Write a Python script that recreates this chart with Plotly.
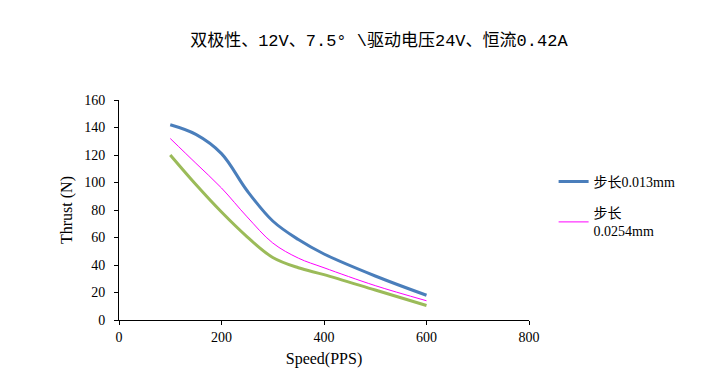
import plotly.graph_objects as go

speed = [100, 150, 200, 250, 300, 350, 400, 500, 600]
thrust_0013 = [142, 135, 121, 94, 72, 58.5, 48, 32, 18]
thrust_00254 = [132, 114, 96, 75, 56, 45, 38, 25, 14]
thrust_third = [120, 98.5, 78.5, 60.5, 45.5, 38, 33, 21.8, 10.5]

names = ["步长0.013mm", "步长<br>0.0254mm", "步长0.05mm"]
colors = ["#4A7EBB", "#FF00FF", "#9BBB59"]
widths = [3, 1, 3]

FONT = "Liberation Serif, Noto Sans CJK SC, serif"
MONO = "Liberation Mono, Noto Sans CJK SC, monospace"

fig = go.Figure()
for i, (ys, nm, c, w, show) in enumerate(zip([thrust_0013, thrust_00254, thrust_third], names, colors, widths, [True, True, False])):
    fig.add_trace(go.Scatter(x=speed, y=ys, mode="lines", name=nm, legendgroup=f"g{i}",
                             line=dict(color=c, width=w, shape="spline", smoothing=1.0),
                             showlegend=show))

fig.update_layout(
    width=716, height=382,
    paper_bgcolor="white", plot_bgcolor="white",
    font=dict(family=FONT, size=13, color="black"),
    title=dict(text="双极性、12V、7.5° \\驱动电压24V、恒流0.42A", x=0.518, xanchor="center",
               y=0.916, yanchor="middle", font=dict(size=17, family=MONO)),
    margin=dict(l=111, r=195, t=92, b=70),
    legend=dict(x=1.06, y=0.70, xanchor="left", yanchor="top", font=dict(size=14, family=FONT),
                tracegroupgap=10, bgcolor="rgba(0,0,0,0)"),
)
fig.update_xaxes(range=[0, 800], tickvals=[0, 200, 400, 600, 800], showline=True, linecolor="black",
                 linewidth=1, ticks="outside", ticklen=4, tickcolor="black", showgrid=False,
                 zeroline=False, title=dict(text="Speed(PPS)", standoff=9), tickfont=dict(size=14))
fig.update_yaxes(range=[0, 160], tickvals=list(range(0, 161, 20)), showline=True, linecolor="black",
                 linewidth=1, ticks="outside", ticklen=4, tickcolor="black", showgrid=False,
                 zeroline=False, title=dict(text="Thrust (N)", standoff=7), tickfont=dict(size=14),
                 ticklabelstandoff=6)

fig.write_html("out.html")
